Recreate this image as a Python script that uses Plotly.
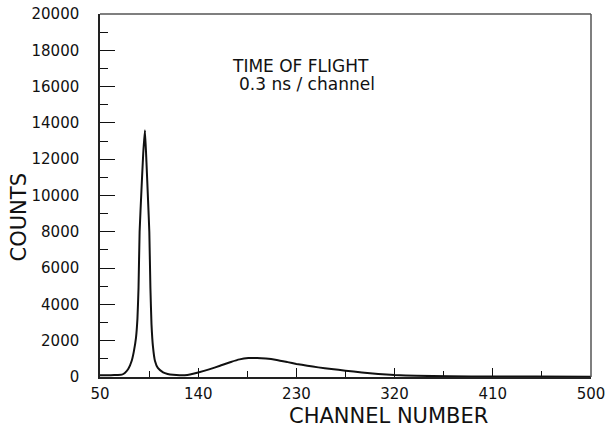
import plotly.graph_objects as go

# Time-of-flight spectrum: channel number vs counts
channels = [50, 60, 66, 70, 73, 76, 79, 81, 83, 84.3, 85.3, 86.3, 88, 89.6, 91.2,
            92.6, 94, 95.2, 96.2, 97.2, 98.5, 100.4, 103, 107.8, 112, 117, 123,
            130, 140, 150, 160, 170, 178, 186, 194, 202, 212, 222, 230, 240, 250,
            262, 275, 290, 305, 320, 340, 370, 410, 450, 500]
counts = [100, 100, 110, 130, 240, 450, 880, 1400, 2170, 3200, 4900, 8000, 10300,
          12300, 13600, 11800, 9800, 8000, 4900, 2900, 1700, 880, 500, 260, 170,
          120, 95, 110, 250, 420, 620, 830, 970, 1040, 1050, 1020, 940, 820, 720,
          620, 530, 440, 350, 250, 170, 110, 65, 40, 30, 25, 20]

x_ticks = [50, 140, 230, 320, 410, 500]
y_ticks = [0, 2000, 4000, 6000, 8000, 10000, 12000, 14000, 16000, 18000, 20000]

FONT = "DejaVu Sans"
INK = "#111111"

fig = go.Figure()
fig.add_trace(go.Scatter(
    x=channels, y=counts, mode="lines",
    line=dict(color=INK, width=2, shape="spline", smoothing=0.4),
    hoverinfo="skip", showlegend=False,
))

fig.update_layout(
    width=606, height=429,
    margin=dict(l=100, r=15, t=14, b=52),
    paper_bgcolor="white", plot_bgcolor="white",
    font=dict(family=FONT, color=INK),
    xaxis=dict(
        range=[50, 500], tickmode="array", tickvals=x_ticks,
        ticktext=[str(v) for v in x_ticks],
        ticks="inside", ticklen=9, tickwidth=1.3, tickcolor=INK,
        minor=dict(ticks="inside", ticklen=6, tickwidth=1.2, tickcolor=INK,
                   dtick=45, tick0=50),
        showgrid=False, zeroline=False, automargin=False,
        showline=True, linecolor="#222222", linewidth=2,
        tickfont=dict(family=FONT, size=15, color=INK),
        ticklabelstandoff=2,
    ),
    yaxis=dict(
        range=[0, 20000], tickmode="array", tickvals=y_ticks,
        ticktext=[str(v) for v in y_ticks],
        ticks="inside", ticklen=15, tickwidth=1.3, tickcolor=INK,
        minor=dict(ticks="inside", ticklen=8, tickwidth=1.2, tickcolor=INK,
                   dtick=1000, tick0=0),
        showgrid=False, zeroline=False, automargin=False,
        showline=True, linecolor="#222222", linewidth=1.5,
        tickfont=dict(family=FONT, size=15, color=INK),
        ticklabelstandoff=16,
    ),
)

# Top and right frame lines
fig.add_shape(type="line", xref="paper", yref="paper", x0=0, x1=1, y0=1, y1=1,
              line=dict(color="#555555", width=1.5))
fig.add_shape(type="line", xref="paper", yref="paper", x0=1, x1=1, y0=0, y1=1,
              line=dict(color="#555555", width=1.5))

# Axis titles
fig.add_annotation(text="CHANNEL NUMBER", xref="paper", yref="paper",
                   x=0.5866, y=-0.107, xanchor="center", yanchor="middle",
                   showarrow=False, font=dict(family=FONT, size=21, color=INK))
fig.add_annotation(text="COUNTS", xref="paper", yref="paper",
                   x=-0.164, y=0.4408, xanchor="center", yanchor="middle",
                   textangle=-90, showarrow=False,
                   font=dict(family=FONT, size=21, color=INK))

# Caption inside the plot
fig.add_annotation(text="TIME OF FLIGHT", xref="paper", yref="paper",
                   x=0.409, y=0.857, xanchor="center", yanchor="middle",
                   showarrow=False, font=dict(family=FONT, size=17, color=INK))
fig.add_annotation(text="0.3 ns / channel", xref="paper", yref="paper",
                   x=0.4216, y=0.807, xanchor="center", yanchor="middle",
                   showarrow=False, font=dict(family=FONT, size=17, color=INK))

fig.write_html("out.html")
